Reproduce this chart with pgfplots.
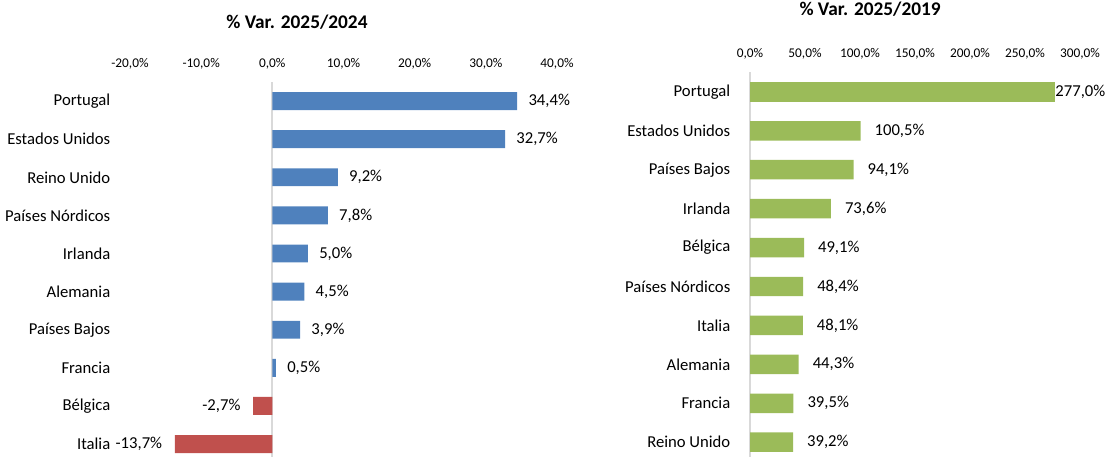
\documentclass[border=0pt]{standalone}
\usepackage{pgfplots}
\pgfplotsset{compat=1.18}
\usepackage{fontspec}
\setmainfont{Carlito}
\definecolor{cblue}{HTML}{4F81BD}
\definecolor{cred}{HTML}{C0504D}
\definecolor{cgreen}{HTML}{9BBB59}
\definecolor{cgrid}{HTML}{D9D9D9}
\pgfplotsset{
  common/.style={
    scale only axis, anchor=north west, clip=false,
    xbar, bar shift=0pt, y dir=reverse,
    axis line style={draw=none}, tick style={draw=none},
    xticklabel pos=upper, xticklabel shift=6pt, yticklabel shift=7pt,
    x tick label style={font=\fontsize{10}{12}\selectfont},
    y tick label style={font=\fontsize{12.5}{15}\selectfont},
    ytick={0,...,9},
    extra x ticks={0}, extra x tick labels={},
    extra x tick style={grid=major, major grid style={draw=cgrid, line width=1.5pt}},
    point meta=x,
    /pgf/number format/assume math mode=true,
    nodes near coords={\pgfmathprintnumber[fixed,fixed zerofill,precision=1,use comma]{\pgfplotspointmeta}\%},
    nodes near coords style={font=\fontsize{12.5}{15}\selectfont, text=black},
    title style={font=\bfseries\fontsize{14.5}{17}\selectfont, anchor=center},
  }
}
\begin{document}
\begin{tikzpicture}
\useasboundingbox (0,0) rectangle (834.75pt,342.75pt);
\begin{axis}[common,
  at={(97.5pt,281.25pt)}, width=320.25pt, height=281.25pt,
  xmin=-20, xmax=40, ymin=-0.5, ymax=9.34, bar width=0.47,
  xtick={-20,-10,0,10,20,30,40},
  xticklabels={{-20,0\%},{-10,0\%},{0,0\%},{10,0\%},{20,0\%},{30,0\%},{40,0\%}},
  yticklabels={Portugal,Estados Unidos,Reino Unido,Países Nórdicos,Irlanda,Alemania,Países Bajos,Francia,Bélgica,Italia},
  title={\% Var. 2025/2024},
  title style={at={(0.391,1)}, yshift=39pt},
]
\addplot[fill=cblue, draw=none, nodes near coords style={anchor=west, xshift=5pt}] coordinates {
  (34.4,0) (32.7,1) (9.2,2) (7.8,3) (5.0,4) (4.5,5) (3.9,6) (0.5,7)
};
\addplot[fill=cred, draw=none, nodes near coords style={anchor=east, xshift=-6pt}] coordinates {
  (-2.7,8) (-13.7,9)
};
\end{axis}
\begin{axis}[common,
  at={(562.5pt,288.75pt)}, width=247.5pt, height=288.75pt,
  xmin=0, xmax=300, ymin=-0.51, ymax=9.38, bar width=0.5,
  xtick={0,50,100,150,200,250,300},
  xticklabels={{0,0\%},{50,0\%},{100,0\%},{150,0\%},{200,0\%},{250,0\%},{300,0\%}},
  yticklabels={Portugal,Estados Unidos,Países Bajos,Irlanda,Bélgica,Países Nórdicos,Italia,Alemania,Francia,Reino Unido},
  title={\% Var. 2025/2019},
  title style={at={(0.364,1)}, yshift=41pt},
]
\addplot[fill=cgreen, draw=none, nodes near coords style={anchor=west, xshift=-3pt}] coordinates {
  (277.0,0)
};
\addplot[fill=cgreen, draw=none, nodes near coords style={anchor=west, xshift=7pt}] coordinates {
  (100.5,1) (94.1,2) (73.6,3) (49.1,4) (48.4,5) (48.1,6) (44.3,7) (39.5,8) (39.2,9)
};
\end{axis}
\end{tikzpicture}
\end{document}
